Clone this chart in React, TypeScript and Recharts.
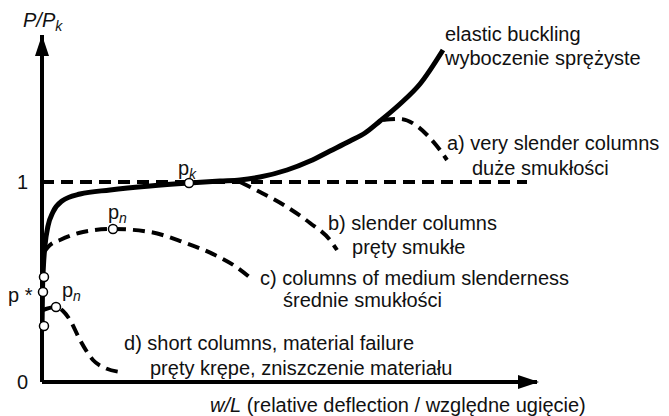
import { LineChart, Line, XAxis, YAxis, ReferenceDot } from 'recharts'

// curves: [w/L (relative units), P/Pk]
const elasticCurve = [
  [0, 0.26], [0.01, 0.46], [0.03, 0.585], [0.061, 0.685], [0.121, 0.78], [0.222, 0.85],
  [0.404, 0.905], [0.768, 0.94], [1.374, 0.96], [2.182, 0.98], [2.97, 0.995], [3.596, 1.005],
  [4.0, 1.01], [4.404, 1.025], [4.949, 1.06], [5.414, 1.105], [5.818, 1.155], [6.222, 1.205],
  [6.525, 1.245], [6.828, 1.305], [7.232, 1.39], [7.636, 1.49], [8.101, 1.66],
]
const verySlender = [[6.889, 1.31], [7.232, 1.315], [7.576, 1.28], [7.838, 1.22], [8.04, 1.16], [8.182, 1.11]]
const slender = [[4.0, 1.0], [4.404, 0.95], [4.949, 0.875], [5.414, 0.795], [5.818, 0.71], [5.96, 0.66]]
const mediumSlender = [
  [0.04, 0.65], [0.162, 0.685], [0.364, 0.71], [0.828, 0.75], [1.434, 0.765],
  [2.182, 0.75], [2.848, 0.7], [3.495, 0.635], [3.899, 0.58], [4.263, 0.51],
]
const shortColumns = [
  [0.02, 0.36], [0.283, 0.375], [0.424, 0.355], [0.566, 0.31], [0.768, 0.21],
  [1.03, 0.11], [1.273, 0.07], [1.576, 0.05],
]
const criticalLine = [[0, 1], [9.798, 1]]

// open circles: p_k, p_n (c), p_n (d), and the three on the axis
const markers = [[2.97, 0.995], [1.434, 0.765], [0.283, 0.375], [0.04, 0.525], [0.02, 0.45], [0.04, 0.28]]

const yTicks = [0, 1]
const xMax = 10
const yMax = 1.735

const FONT = '"Liberation Sans", Arial, Helvetica, sans-serif'

const pts = (list: number[][]) => list.map(([x, y]) => ({ x, y }))

const note = (content: React.ReactNode, size = 20) => (p: any) => (
  <text x={p.cx} y={p.cy} dominantBaseline="central" fontSize={size} fill="#111" fontFamily={FONT}>
    {content}
  </text>
)

const arrowUp = (p: any) => (
  <polygon points={`${p.cx},${p.cy} ${p.cx - 7},${p.cy + 21} ${p.cx + 7},${p.cy + 21}`} fill="#000" />
)
const arrowRight = (p: any) => (
  <polygon points={`${p.cx + 2},${p.cy} ${p.cx - 19},${p.cy - 7} ${p.cx - 19},${p.cy + 7}`} fill="#000" />
)

const sub = (s: string) => (
  <tspan fontSize={14} fontStyle="italic" dy={6}>{s}</tspan>
)

export default function App() {
  const dashed = { stroke: '#000', strokeWidth: 4, strokeDasharray: '12 7', dot: false, isAnimationActive: false, type: 'monotone' as const, dataKey: 'y' }

  return (
    <div style={{ position: 'absolute', left: 0, top: 0, background: '#fff' }}>
      <LineChart width={669} height={416} margin={{ top: 35, right: 132, bottom: 0, left: 0 }}>
        <XAxis
          type="number"
          dataKey="x"
          domain={[0, xMax]}
          allowDataOverflow
          tick={false}
          tickLine={false}
          height={34}
          axisLine={{ stroke: '#000', strokeWidth: 4 }}
        />
        <YAxis
          type="number"
          domain={[0, yMax]}
          allowDataOverflow
          ticks={yTicks}
          tickLine={false}
          tickSize={0}
          tickMargin={14}
          width={42}
          tick={{ fontSize: 20, fill: '#111', fontFamily: FONT }}
          axisLine={{ stroke: '#000', strokeWidth: 4 }}
        />

        <Line data={pts(criticalLine)} {...dashed} type="linear" />
        <Line data={pts(verySlender)} {...dashed} />
        <Line data={pts(slender)} {...dashed} />
        <Line data={pts(mediumSlender)} {...dashed} />
        <Line data={pts(shortColumns)} {...dashed} />
        <Line data={pts(elasticCurve)} dataKey="y" type="monotone" stroke="#000" strokeWidth={5} dot={false} isAnimationActive={false} />

        <ReferenceDot x={0} y={yMax} r={0} ifOverflow="visible" shape={arrowUp} />
        <ReferenceDot x={xMax} y={0} r={0} ifOverflow="visible" shape={arrowRight} />

        {markers.map(([x, y], i) => (
          <ReferenceDot key={`m-${i}`} x={x} y={y} r={4.5} fill="#fff" stroke="#000" strokeWidth={1.5} ifOverflow="visible" />
        ))}

        <ReferenceDot x={-0.384} y={1.81} ifOverflow="visible" shape={note(<><tspan fontStyle="italic">P/P</tspan>{sub('k')}</>)} />
        <ReferenceDot x={2.747} y={1.07} ifOverflow="visible" shape={note(<>p{sub('k')}</>)} />
        <ReferenceDot x={1.333} y={0.85} ifOverflow="visible" shape={note(<>p{sub('n')}</>)} />
        <ReferenceDot x={0.404} y={0.46} ifOverflow="visible" shape={note(<>p{sub('n')}</>)} />
        <ReferenceDot x={-0.687} y={0.435} ifOverflow="visible" shape={note('p *')} />

        <ReferenceDot x={8.141} y={1.74} ifOverflow="visible" shape={note('elastic buckling')} />
        <ReferenceDot x={8.141} y={1.62} ifOverflow="visible" shape={note('wyboczenie sprężyste')} />
        <ReferenceDot x={8.182} y={1.195} ifOverflow="visible" shape={note('a) very slender columns')} />
        <ReferenceDot x={8.687} y={1.07} ifOverflow="visible" shape={note('duże smukłości')} />
        <ReferenceDot x={5.778} y={0.795} ifOverflow="visible" shape={note('b) slender columns')} />
        <ReferenceDot x={6.263} y={0.675} ifOverflow="visible" shape={note('pręty smukłe')} />
        <ReferenceDot x={4.404} y={0.52} ifOverflow="visible" shape={note('c) columns of medium slenderness')} />
        <ReferenceDot x={4.869} y={0.41} ifOverflow="visible" shape={note('średnie smukłości')} />
        <ReferenceDot x={1.657} y={0.195} ifOverflow="visible" shape={note('d) short columns, material failure')} />
        <ReferenceDot x={2.182} y={0.07} ifOverflow="visible" shape={note('pręty krępe, zniszczenie materiału')} />
        <ReferenceDot
          x={3.394}
          y={-0.115}
          ifOverflow="visible"
          shape={note(<><tspan fontStyle="italic">w/L</tspan> (relative deflection / względne ugięcie)</>)}
        />
      </LineChart>
    </div>
  )
}
